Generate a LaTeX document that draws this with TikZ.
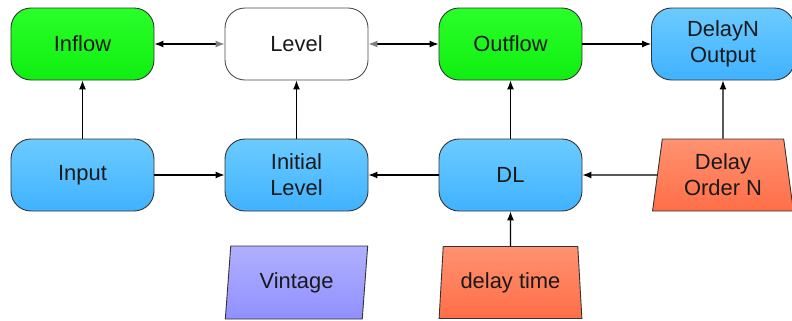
\documentclass[tikz,border=0pt]{standalone}
\usepackage{fontspec}
\setmainfont{Liberation Sans}
\usetikzlibrary{arrows.meta,shapes.geometric}
\definecolor{gtop}{HTML}{2AFF2A}
\definecolor{gbot}{HTML}{10EE10}
\definecolor{btop}{HTML}{6CCBFF}
\definecolor{bbot}{HTML}{40B2FF}
\definecolor{otop}{HTML}{FF9270}
\definecolor{obot}{HTML}{FF6E48}
\definecolor{ptop}{HTML}{B0B0FF}
\definecolor{pbot}{HTML}{9090FF}
\definecolor{edge}{HTML}{333333}
\tikzset{
  every node/.style={font=\fontsize{22}{26}\selectfont, text=black!90, align=center, inner sep=0pt},
  rbox/.style={draw=edge, line width=0.9bp, rounded corners=20bp, minimum width=143bp, minimum height=72bp},
  greenbox/.style={rbox, top color=gtop, bottom color=gbot},
  bluebox/.style={rbox, top color=btop, bottom color=bbot},
  whitebox/.style={rbox, fill=white, draw=black!70},
  trap/.style={trapezium, trapezium left angle=81.5, trapezium right angle=81.5, trapezium stretches=true, minimum width=141bp, minimum height=72bp, draw=edge, line width=0.9bp, top color=otop, bottom color=obot},
  para/.style={trapezium, trapezium left angle=81.5, trapezium right angle=98.5, trapezium stretches=true, minimum width=143bp, minimum height=73bp, draw=edge, line width=0.9bp, top color=ptop, bottom color=pbot},
  conn/.style={line width=1.2bp, -{Latex[length=9bp,width=7bp]}},
  gtip/.style={{Latex[length=9bp,width=7bp]}-{Latex[length=9bp,width=7bp,color=gray]}, line width=1.2bp},
  gtipr/.style={{Latex[length=9bp,width=7bp,color=gray]}-{Latex[length=9bp,width=7bp]}, line width=1.2bp}
}
\begin{document}
\begin{tikzpicture}[x=1bp,y=-1bp]
\useasboundingbox (0,0) rectangle (792,320);
\node[greenbox] (inflow) at (82.5,44) {Inflow};
\node[whitebox] (level) at (296.5,44) {Level};
\node[greenbox] (outflow) at (510.5,44) {Outflow};
\node[bluebox] (dno) at (723,44) {DelayN\\Output};
\node[bluebox] (input) at (82.5,175) {Input};
\node[bluebox] (init) at (296.5,175) {Initial\\Level};
\node[bluebox] (dl) at (510.5,175) {DL};
\node[trap] (don) at (723,175) {Delay\\Order N};
\node[para] (vint) at (296.5,282.5) {Vintage};
\node[trap, minimum width=143bp] (dtime) at (510.5,282.5) {delay time};
\draw[gtip] (inflow) -- (level);
\draw[gtipr] (level) -- (outflow);
\draw[conn] (outflow) -- (dno);
\draw[conn] (input) -- (inflow);
\draw[conn] (init) -- (level);
\draw[conn] (dl) -- (outflow);
\draw[conn] (don) -- (dno);
\draw[conn] (input) -- (init);
\draw[conn] (dl) -- (init);
\draw[conn] (don) -- (dl);
\draw[conn] (dtime) -- (dl);
\end{tikzpicture}
\end{document}
